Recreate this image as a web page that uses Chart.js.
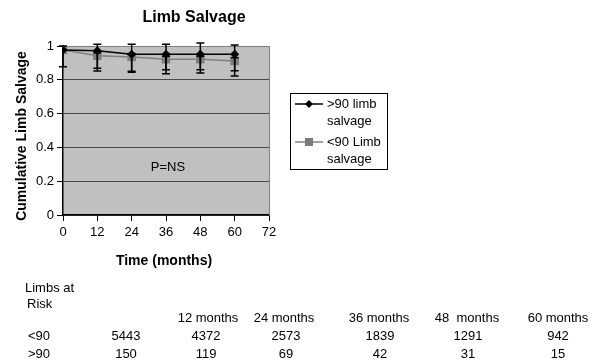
<!DOCTYPE html>
<html>
<head>
<meta charset="utf-8">
<script src="https://cdn.jsdelivr.net/npm/chart.js@4.4.1/dist/chart.umd.min.js"></script>
<style>
  html, body { margin: 0; padding: 0; background: #fff; }
</style>
</head>
<body>
<canvas id="limbChart" width="599" height="361"></canvas>
<script>
// time points (months) and cumulative limb salvage per group
const months = [0, 12, 24, 36, 48, 60];
const above90 = [0.976, 0.972, 0.951, 0.951, 0.951, 0.951];
const below90 = [0.976, 0.943, 0.935, 0.922, 0.922, 0.911];
// error bar ends
const above90Upper = [1.0, 1.01, 1.01, 1.01, 1.018, 1.006];
const above90Lower = [0.877, 0.868, 0.85, 0.86, 0.86, 0.854];
const below90Upper = [0.976, 0.96, 0.95, 0.94, 0.94, 0.93];
const below90Lower = [0.976, 0.852, 0.845, 0.836, 0.84, 0.822];

const seriesLabels = ['>90 limb salvage', '<90 Limb salvage'];

// limbs at risk table
const riskHeaders = ['12 months', '24 months', '36 months', '48  months', '60 months'];
const riskGroups = ['<90', '>90'];
const riskBelow90 = [5443, 4372, 2573, 1839, 1291, 942];
const riskAbove90 = [150, 119, 69, 42, 31, 15];

const FONT = '"Liberation Sans", Arial, sans-serif';

const extras = {
  id: 'extras',
  beforeDraw(chart) {
    const { ctx, chartArea: a } = chart;
    ctx.save();
    ctx.fillStyle = '#c0c0c0';
    ctx.fillRect(a.left, a.top, a.right - a.left, a.bottom - a.top);
    ctx.restore();
  },
  afterDatasetsDraw(chart) {
    const { ctx } = chart;
    const xs = chart.scales.x, ys = chart.scales.y;
    const bars = [[below90Upper, below90Lower], [above90Upper, above90Lower]];
    ctx.save();
    ctx.strokeStyle = '#000';
    ctx.lineWidth = 1.5;
    bars.forEach(([up, lo]) => {
      months.forEach((m, i) => {
        const x = xs.getPixelForValue(m);
        const y1 = ys.getPixelForValue(up[i]);
        const y2 = ys.getPixelForValue(lo[i]);
        if (Math.abs(y2 - y1) < 1) return;
        ctx.beginPath();
        ctx.moveTo(x, y1); ctx.lineTo(x, y2);
        ctx.moveTo(x - 4, y1); ctx.lineTo(x + 4, y1);
        ctx.moveTo(x - 4, y2); ctx.lineTo(x + 4, y2);
        ctx.stroke();
      });
    });
    ctx.restore();
  },
  afterDraw(chart) {
    const { ctx, chartArea: a } = chart;
    ctx.save();
    // plot right border
    ctx.strokeStyle = '#808080';
    ctx.lineWidth = 1;
    ctx.beginPath();
    ctx.moveTo(a.right + 0.5, a.top); ctx.lineTo(a.right + 0.5, a.bottom);
    ctx.stroke();

    ctx.fillStyle = '#000';
    ctx.textBaseline = 'middle';
    ctx.textAlign = 'center';
    ctx.font = 'bold 16px ' + FONT;
    ctx.fillText('Limb Salvage', 194, 18);
    ctx.font = 'bold 14px ' + FONT;
    ctx.fillText('Time (months)', 164, 261);
    ctx.save();
    ctx.translate(22, 136);
    ctx.rotate(-Math.PI / 2);
    ctx.fillText('Cumulative Limb Salvage', 0, 0);
    ctx.restore();
    ctx.font = '13px ' + FONT;
    ctx.fillText('P=NS', 168, 167);

    // legend
    ctx.strokeStyle = '#000';
    ctx.lineWidth = 1;
    ctx.strokeRect(290.5, 93.5, 97, 76);
    ctx.textAlign = 'left';
    chart.data.datasets.forEach((ds, i) => {
      const y = 104 + i * 38;
      ctx.strokeStyle = ds.borderColor;
      ctx.lineWidth = 1.5;
      ctx.beginPath();
      ctx.moveTo(295, y); ctx.lineTo(323, y);
      ctx.stroke();
      ctx.fillStyle = ds.backgroundColor;
      if (ds.pointStyle === 'rect') {
        ctx.fillRect(305, y - 4, 8, 8);
      } else {
        ctx.beginPath();
        ctx.moveTo(309, y - 4); ctx.lineTo(313, y); ctx.lineTo(309, y + 4); ctx.lineTo(305, y);
        ctx.closePath(); ctx.fill();
      }
      const words = ds.label.split(' ');
      ctx.fillStyle = '#000';
      ctx.font = '13px ' + FONT;
      ctx.fillText(words.slice(0, 2).join(' '), 327, y);
      ctx.fillText(words.slice(2).join(' '), 327, y + 17);
    });

    // limbs at risk table
    ctx.font = '13px ' + FONT;
    ctx.fillText('Limbs at', 25, 288);
    ctx.fillText('Risk', 27, 304);
    ctx.textAlign = 'center';
    const headCx = [208, 284, 379, 467, 558];
    const valCx = [126, 206, 286, 380, 468, 558];
    riskHeaders.forEach((h, i) => ctx.fillText(h, headCx[i], 318));
    [riskBelow90, riskAbove90].forEach((row, r) => {
      const y = 336 + r * 18;
      ctx.fillText(riskGroups[r], 39, y);
      row.forEach((v, i) => ctx.fillText(String(v), valCx[i], y));
    });
    ctx.restore();
  }
};

new Chart(document.getElementById('limbChart'), {
  type: 'line',
  data: {
    datasets: [
      {
        label: seriesLabels[0],
        data: months.map((m, i) => ({ x: m, y: above90[i] })),
        borderColor: '#000',
        backgroundColor: '#000',
        borderWidth: 1.5,
        pointStyle: 'rectRot',
        pointRadius: 3.5,
        tension: 0
      },
      {
        label: seriesLabels[1],
        data: months.map((m, i) => ({ x: m, y: below90[i] })),
        borderColor: '#808080',
        backgroundColor: '#7a7a7a',
        borderWidth: 1.5,
        pointStyle: 'rect',
        pointRadius: 5,
        tension: 0
      }
    ]
  },
  options: {
    responsive: false,
    animation: false,
    layout: { padding: { left: 0, top: 46, right: 330, bottom: 116 } },
    plugins: {
      legend: { display: false },
      title: { display: false },
      tooltip: { enabled: false }
    },
    scales: {
      x: {
        type: 'linear',
        min: 0, max: 72,
        afterFit: s => { s.height = 30; },
        ticks: { stepSize: 12, color: '#000', padding: 4, font: { family: FONT, size: 13 } },
        grid: { drawOnChartArea: false, tickLength: 6, tickColor: '#000' },
        border: { color: '#000', width: 1.5 }
      },
      y: {
        min: 0, max: 1,
        afterFit: s => { s.width = 63; },
        ticks: {
          stepSize: 0.2, color: '#000', padding: 3,
          font: { family: FONT, size: 13 },
          callback: v => String(Number(v.toFixed(1)))
        },
        grid: {
          color: c => (c.tick && c.tick.value === 1) ? '#808080' : '#4a4a4a',
          lineWidth: 1,
          tickLength: 6,
          tickColor: '#000'
        },
        border: { color: '#000', width: 1.5 }
      }
    }
  },
  plugins: [extras]
});
</script>
</body>
</html>
